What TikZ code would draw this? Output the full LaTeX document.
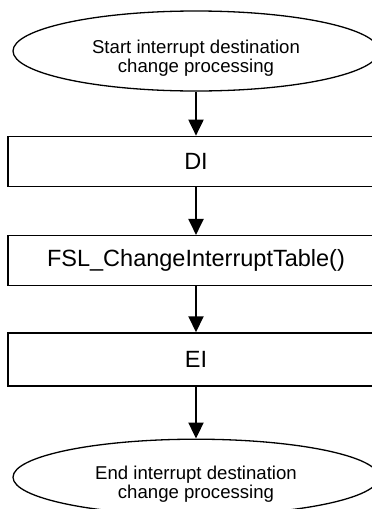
\documentclass[tikz,border=0pt]{standalone}
\usepackage{fontspec}
\setmainfont{Liberation Sans}
\usepackage{tikz}
\usetikzlibrary{positioning,shapes.geometric,arrows.meta}
\def\FCWidth{376pt}
\def\FCHeight{50pt}

\begin{document}
\begin{tikzpicture}[
	terminal/.style={draw,ellipse,line width=1.3pt,minimum width=366pt,inner sep=0pt},
	termtext/.style={font=\fontsize{18.6}{19.5}\selectfont,align=center,inner sep=0pt},
	process/.style={draw,rectangle,line width=1.3pt,minimum width=\FCWidth,minimum height=\FCHeight,inner sep=0pt,font=\fontsize{23.5}{28}\selectfont},
	flow/.style={-{Triangle[length=16pt,width=15pt]},line width=2pt}]
	\path[use as bounding box,clip] (0,0) rectangle (372pt,-509pt);
	% terminals and steps
	\node[terminal,minimum height=80pt] (start) at (196pt,-51pt) {};
	\node[termtext] (starttext) at ([yshift=-7pt]start.center) {Start interrupt destination\\change processing};
	\node[process,below=44pt of start] (di) {DI};
	\node[process,below=48pt of di] (fsl) {FSL\_ChangeInterruptTable()};
	\node[process,below=46pt of fsl,minimum height=53pt] (ei) {EI};
	\node[terminal,below=52pt of ei,minimum height=76pt] (end) {};
	\node[termtext] (endtext) at ([yshift=-7pt]end.center) {End interrupt destination\\change processing};
	% flow
	\draw[flow] (start) -- (di);
	\draw[flow] (di) -- (fsl);
	\draw[flow] (fsl) -- (ei);
	\draw[flow] (ei) -- (end);
\end{tikzpicture}
\end{document}
